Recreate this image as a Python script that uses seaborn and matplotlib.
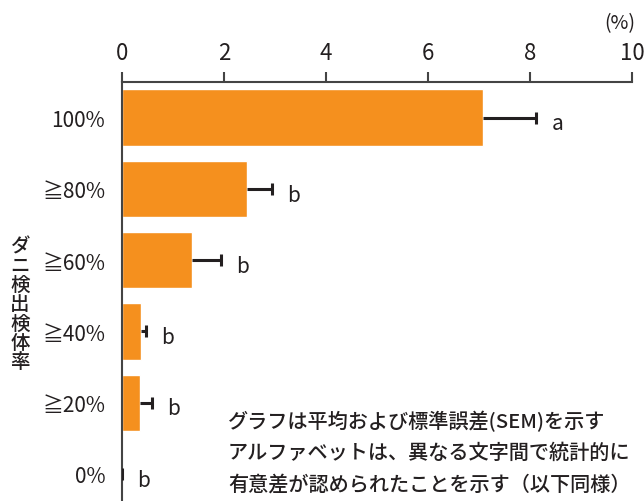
import numpy as np
import pandas as pd
import matplotlib
matplotlib.use('Agg')
import matplotlib.pyplot as plt
import seaborn as sns

# data
categories = ['100%', '≧80%', '≧60%', '≧40%', '≧20%', '0%']
means = [7.08, 2.45, 1.37, 0.37, 0.35, 0.0]
sems = [1.04, 0.49, 0.57, 0.10, 0.24, 0.0]
letters = ['a', 'b', 'b', 'b', 'b', 'b']
x_ticks = [0, 2, 4, 6, 8, 10]

y_label = 'ダニ検出検体率'
note = ['グラフは平均および標準誤差(SEM)を示す',
        'アルファベットは、異なる文字間で統計的に',
        '有意差が認められたことを示す（以下同様）']

sns.set_style('white')
plt.rcParams['font.family'] = ['Noto Sans CJK JP', 'DejaVu Sans']

bar_color = '#F5901E'
ink = '#231F20'

df = pd.DataFrame({'cat': categories, 'mean': means, 'sem': sems})
df['top'] = df['mean'] + df['sem']

fig = plt.figure(figsize=(6.44, 5.02), dpi=100)
ax = fig.add_axes([122 / 644, 0, 510 / 644, (502 - 83) / 502])

sns.barplot(data=df, x='mean', y='cat', orient='h', color=bar_color,
            width=0.79, saturation=1, ax=ax, errorbar=None)

# one-sided error bars: line from mean to mean+sem, cap only at the end
pos = np.arange(len(categories))
ax.hlines(pos, df['mean'], df['top'], color=ink, linewidth=2.2, zorder=3)
ax.plot(df['top'], pos, linestyle='none', marker='|', markersize=9,
        markeredgewidth=2.2, color=ink, zorder=3)

for i, (t, l) in enumerate(zip(df['top'], letters)):
    ax.text(t + 0.3, i + 0.08, l, fontsize=15, color=ink,
            ha='left', va='center')

ax.set_xlim(0, 10)
ax.set_ylim(5.38, -0.5)
ax.xaxis.tick_top()
ax.set_xticks(x_ticks)
ax.set_xticklabels([str(t) for t in x_ticks], fontsize=16, color=ink)
ax.tick_params(axis='x', direction='out', length=7, width=1.5, color='#444444', pad=6)
ax.tick_params(axis='y', length=0, pad=12, labelsize=15, labelcolor=ink)
ax.set_xlabel('')
ax.set_ylabel('')

for side in ['right', 'bottom']:
    ax.spines[side].set_visible(False)
for side in ['left', 'top']:
    ax.spines[side].set_color('#444444')
    ax.spines[side].set_linewidth(1.5)

fig.text(620 / 644, 1 - 24 / 502, '(%)', fontsize=14, color=ink,
         ha='center', va='center')

fig.text(20 / 644, 1 - 305 / 502, '\n'.join(y_label), fontsize=14,
         color=ink, ha='center', va='center', linespacing=1.02,
         fontweight='medium')

for k, line in enumerate(note):
    fig.text(228 / 644, 1 - (421 + 32 * k) / 502, line, fontsize=14.5,
             color=ink, ha='left', va='center', fontweight='medium')

fig.savefig('out.png', dpi=100)
